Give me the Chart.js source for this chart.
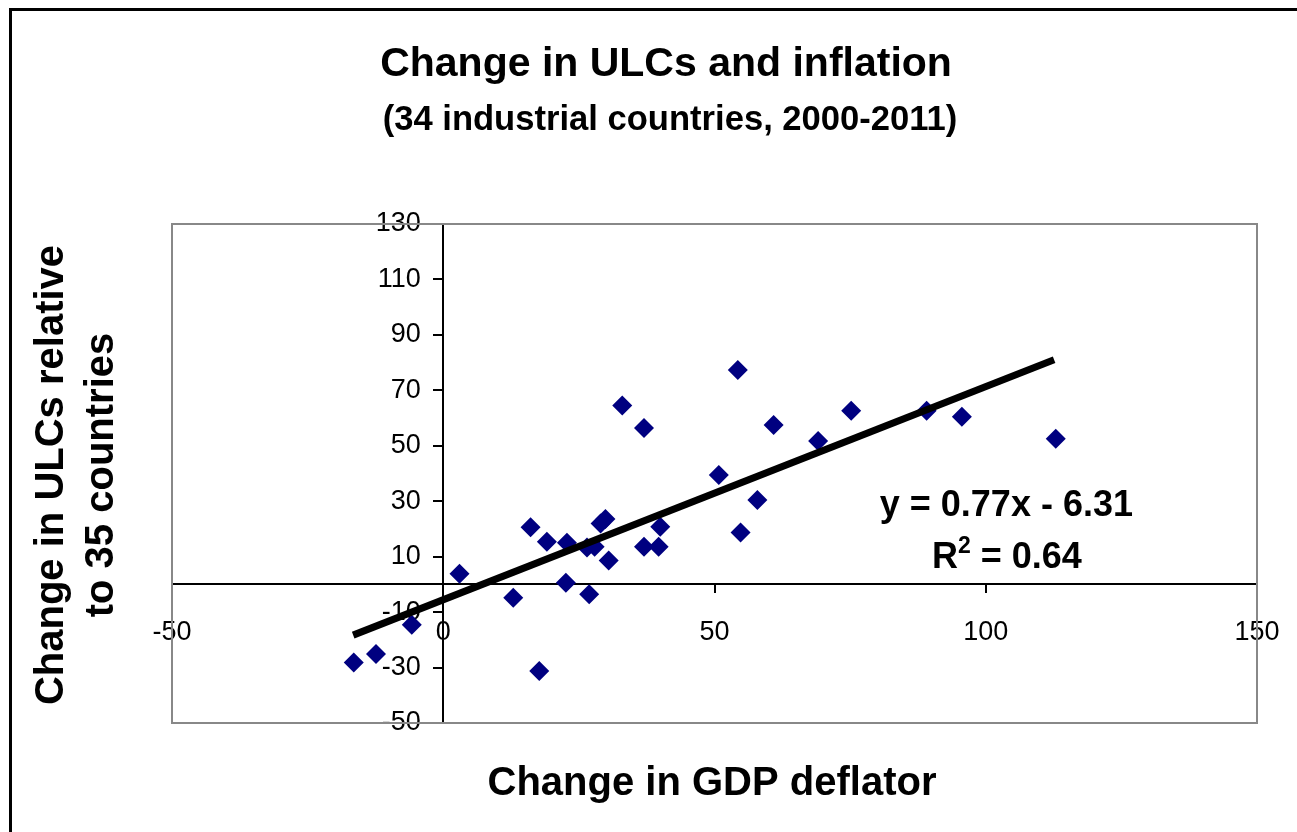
<!DOCTYPE html>
<html>
<head>
<meta charset="utf-8">
<script src="https://cdn.jsdelivr.net/npm/chart.js@4"></script>
<style>
  body { margin: 0; background: #fff; }
  #wrap { position: relative; width: 1297px; height: 832px; }
  #frame { position: absolute; left: 9px; top: 8px; right: -10px; bottom: -10px; border: 3px solid #000; pointer-events: none; }
  canvas { position: absolute; left: 0; top: 0; }
</style>
</head>
<body>
<div id="wrap">
  <canvas id="grafico" width="1297" height="832"></canvas>
  <div id="frame"></div>
</div>
<script>
// GDP deflator change (x) vs ULC change relative to other countries (y)
const deflator = [-16.5, -12.4, -5.8, 3.0, 12.9, 16.1, 19.1, 17.7, 22.8, 22.6, 26.9, 26.5, 27.9, 29.0, 29.9, 30.5,
                  37.0, 39.7, 40.0, 33.0, 37.0, 54.3, 60.9, 50.8, 57.9, 54.8, 69.1, 75.2, 89.1, 95.6, 112.9];
const ulc = [-28.2, -25.1, -14.6, 3.8, -4.8, 20.6, 15.4, -31.2, 15.0, 0.6, -3.6, 13.3, 13.6, 22.0, 23.6, 8.6,
             13.6, 13.6, 20.8, 64.5, 56.4, 77.3, 57.5, 39.5, 30.4, 18.7, 51.7, 62.6, 62.6, 60.5, 52.5];

// linear trend line ends
const trendX = [-16.6, 112.6];
const trendY = [-18.3, 81.0];

const xTicks = [-50, 0, 50, 100, 150];
const yTicks = [-50, -30, -10, 10, 30, 50, 70, 90, 110, 130];

const FONT = '"Liberation Sans", Arial, sans-serif';

const extras = {
    id: 'extras',
    beforeDatasetsDraw(chart) {
        const { ctx, chartArea: a } = chart;
        ctx.save();
        ctx.strokeStyle = '#888';
        ctx.lineWidth = 2;
        ctx.strokeRect(a.left, a.top, a.right - a.left, a.bottom - a.top);
        ctx.restore();
    },
    afterDraw(chart) {
        const { ctx } = chart;
        const x = chart.scales.x, y = chart.scales.y;
        ctx.save();
        ctx.fillStyle = '#000';
        ctx.textAlign = 'center';
        ctx.textBaseline = 'middle';

        // titles (the chart title is not centred on the canvas in the original)
        ctx.font = 'bold 41px ' + FONT;
        ctx.fillText('Change in ULCs and inflation', 666, 65);
        ctx.font = 'bold 34.6px ' + FONT;
        ctx.fillText('(34 industrial countries, 2000-2011)', 670, 120);

        ctx.font = 'bold 40px ' + FONT;
        ctx.fillText('Change in GDP deflator', 712, 784);
        ctx.save();
        ctx.translate(52, 475);
        ctx.rotate(-Math.PI / 2);
        ctx.fillText('Change in ULCs relative', 0, 0);
        ctx.fillText('to 35 countries', 0, 50);
        ctx.restore();

        // regression equation
        ctx.font = 'bold 36px ' + FONT;
        ctx.fillText('y = 0.77x - 6.31', x.getPixelForValue(103.8), y.getPixelForValue(28.3));
        const rx = x.getPixelForValue(103.9), ry = y.getPixelForValue(9.4);
        const rest = ' = 0.64';
        const wR = ctx.measureText('R').width, wRest = ctx.measureText(rest).width;
        ctx.font = 'bold 23px ' + FONT;
        const w2 = ctx.measureText('2').width;
        const x0 = rx - (wR + w2 + wRest) / 2;
        ctx.textAlign = 'left';
        ctx.fillText('2', x0 + wR, ry - 12);
        ctx.font = 'bold 36px ' + FONT;
        ctx.fillText('R', x0, ry);
        ctx.fillText(rest, x0 + wR + w2, ry);
        ctx.restore();
    }
};

const ctx = document.getElementById('grafico').getContext('2d');
new Chart(ctx, {
    type: 'scatter',
    data: {
        datasets: [{
            label: 'Countries',
            data: deflator.map((v, i) => ({ x: v, y: ulc[i] })),
            pointStyle: 'rectRot',
            pointRadius: 10,
            pointHoverRadius: 10,
            backgroundColor: '#000080',
            borderColor: '#000080',
            borderWidth: 0,
            order: 2
        }, {
            type: 'line',
            label: 'Trend',
            data: trendX.map((v, i) => ({ x: v, y: trendY[i] })),
            borderColor: '#000',
            borderWidth: 7,
            pointRadius: 0,
            fill: false,
            order: 1
        }]
    },
    options: {
        responsive: false,
        animation: false,
        devicePixelRatio: 1,
        layout: { padding: { left: 172, right: 40, top: 224, bottom: 109 } },
        plugins: {
            legend: { display: false },
            tooltip: { enabled: false }
        },
        scales: {
            x: {
                type: 'linear',
                position: { y: 0 },
                min: -50, max: 150,
                afterBuildTicks: s => { s.ticks = xTicks.map(v => ({ value: v })); },
                afterFit: s => { s.paddingLeft = 0; s.paddingRight = 0; },
                border: { display: true, color: '#000', width: 2 },
                grid: { drawOnChartArea: false, drawTicks: true, tickLength: 8, color: '#000', lineWidth: 2 },
                ticks: { color: '#000', font: { family: FONT, size: 27 }, padding: 24, maxRotation: 0 }
            },
            y: {
                type: 'linear',
                position: { x: 0 },
                min: -50, max: 130,
                afterBuildTicks: s => { s.ticks = yTicks.map(v => ({ value: v })); },
                afterFit: s => { s.paddingTop = 0; s.paddingBottom = 0; },
                border: { display: true, color: '#000', width: 2 },
                grid: { drawOnChartArea: false, drawTicks: true, tickLength: 9, color: '#000', lineWidth: 2 },
                // labels sit right on the axis when it is placed at x = 0, so pad them with spaces
                ticks: { color: '#000', font: { family: FONT, size: 27 }, callback: v => v + '   ' }
            }
        }
    },
    plugins: [extras]
});
</script>
</body>
</html>
